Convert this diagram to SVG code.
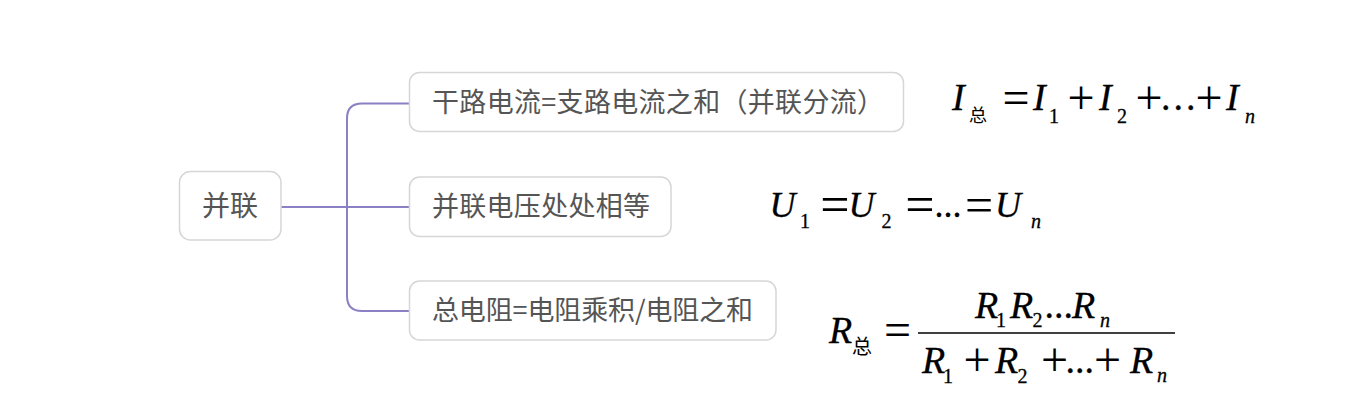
<svg xmlns="http://www.w3.org/2000/svg" width="1370" height="404" viewBox="0 0 1370 404">
<style>
.box{fill:#ffffff;stroke:#d6d6d6;stroke-width:1.5}
.lbl{font-family:"Noto Sans CJK SC","Noto Sans",sans-serif;fill:#555555}
.conn{fill:none;stroke:#8a80c4;stroke-width:2}
.math{font-family:"Liberation Serif","Times New Roman",serif;fill:#000000;stroke:#000000;stroke-width:0.3}
.it{font-style:italic}
.op{stroke-width:0}
.cjk{font-family:"Noto Sans CJK SC",sans-serif;stroke-width:0}
</style>
<rect width="1370" height="404" fill="#ffffff"/>
<g id="connectors">
<path class="conn" d="M281,207 H410"/>
<path class="conn" d="M347,207 V118.5 Q347,103.5 362,103.5 H410"/>
<path class="conn" d="M347,207 V296 Q347,311 362,311 H410"/>
</g>
<g id="root">
<rect class="box" x="179.5" y="171.5" width="101.5" height="68.5" rx="11"/>
<text class="lbl" x="230" y="216" font-size="28" text-anchor="middle">并联</text>
</g>
<g id="node1">
<rect class="box" x="409.5" y="72.5" width="494" height="59" rx="10"/>
<text class="lbl" x="432" y="111.5" font-size="27" textLength="452" lengthAdjust="spacing">干路电流=支路电流之和（并联分流）</text>
</g>
<g id="node2">
<rect class="box" x="409.5" y="177" width="261.5" height="59.5" rx="10"/>
<text class="lbl" x="432" y="216" font-size="27" textLength="218" lengthAdjust="spacing">并联电压处处相等</text>
</g>
<g id="node3">
<rect class="box" x="409.5" y="281" width="366.5" height="59" rx="10"/>
<text class="lbl" x="432" y="320" font-size="27" textLength="321" lengthAdjust="spacing">总电阻=电阻乘积/电阻之和</text>
</g>
<g id="formula1">
<text class="math" font-size="38"><tspan class="it" x="952" y="110">I</tspan><tspan class="cjk" x="969" y="121.5" font-size="18">总</tspan><tspan class="op" x="1002.5" y="114" font-size="48">=</tspan><tspan class="it" x="1033" y="110">I</tspan><tspan x="1049" y="123" font-size="20">1</tspan><tspan class="op" x="1067.5" y="114" font-size="48">+</tspan><tspan class="it" x="1099" y="110">I</tspan><tspan x="1117" y="123" font-size="20">2</tspan><tspan class="op" x="1135.5" y="114" font-size="48">+</tspan><tspan x="1161" y="110" letter-spacing="3">...</tspan><tspan class="op" x="1195.5" y="114" font-size="48">+</tspan><tspan class="it" x="1226" y="110">I</tspan><tspan class="it" x="1245" y="123" font-size="20">n</tspan></text>
</g>
<g id="formula2">
<text class="math" font-size="36"><tspan class="it" x="769.5" y="217">U</tspan><tspan x="800" y="228" font-size="20">1</tspan><tspan class="op" x="820.3" y="222" font-size="52">=</tspan><tspan class="it" x="848.4" y="217">U</tspan><tspan x="881.4" y="228" font-size="20">2</tspan><tspan class="op" x="905.3" y="222" font-size="52">=</tspan><tspan x="934.5" y="217">...</tspan><tspan class="op" x="965" y="221.5" font-size="50">=</tspan><tspan class="it" x="995" y="217">U</tspan><tspan class="it" x="1031" y="228" font-size="20">n</tspan></text>
</g>
<g id="formula3">
<text class="math" font-size="38"><tspan class="it" x="829" y="343">R</tspan><tspan class="cjk" x="852" y="353.5" font-size="20">总</tspan><tspan class="op" x="884" y="346" font-size="48">=</tspan><tspan class="it" x="975" y="318">R</tspan><tspan x="996" y="327" font-size="20">1</tspan><tspan class="it" x="1010" y="318">R</tspan><tspan x="1032.4" y="327" font-size="20">2</tspan><tspan x="1044.4" y="318">...</tspan><tspan class="it" x="1072" y="318">R</tspan><tspan class="it" x="1100" y="327" font-size="20">n</tspan><tspan class="it" x="922" y="373">R</tspan><tspan x="943" y="383" font-size="20">1</tspan><tspan class="op" x="963.5" y="376" font-size="48">+</tspan><tspan class="it" x="995" y="373">R</tspan><tspan x="1017.4" y="383" font-size="20">2</tspan><tspan class="op" x="1041" y="376" font-size="48">+</tspan><tspan x="1065.4" y="373">...</tspan><tspan class="op" x="1094" y="376" font-size="48">+</tspan><tspan class="it" x="1130" y="373">R</tspan><tspan class="it" x="1157" y="382" font-size="20">n</tspan></text>
<line x1="918" y1="333" x2="1175" y2="333" stroke="#000000" stroke-width="1.6"/>
</g>
</svg>
